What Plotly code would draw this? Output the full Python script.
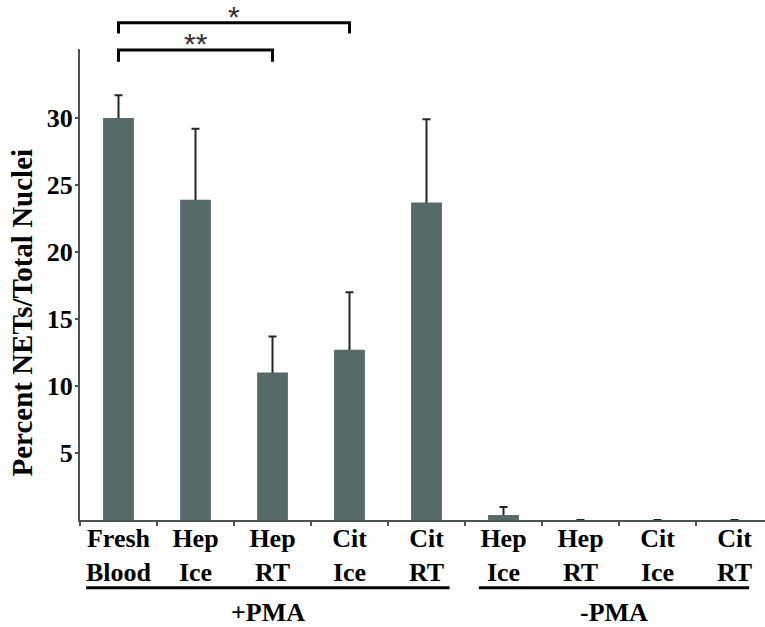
import plotly.graph_objects as go

# ---- data ----
categories = ["Fresh<br>Blood", "Hep<br>Ice", "Hep<br>RT", "Cit<br>Ice", "Cit<br>RT",
              "Hep<br>Ice", "Hep<br>RT", "Cit<br>Ice", "Cit<br>RT"]
values = [30.0, 23.9, 11.0, 12.7, 23.7, 0.37, 0, 0, 0]
err_up = [1.7, 5.3, 2.7, 4.3, 6.2, 0.6, 0, 0, 0]
y_tickvals = [5, 10, 15, 20, 25, 30]
groups = [("+PMA", -0.42, 4.30), ("-PMA", 4.68, 8.19)]
# significance brackets: (label, x_start, x_end, y_bar, y_leg)  y in data units
brackets = [("*", 0, 3, 37.1, 36.3), ("**", 0, 2, 35.07, 34.2)]

YMAX = 35.15
XMIN, XMAX = -0.5, 8.396

BAR = "#576a6a"
ERR = "#1e2828"
AX = "#4a5252"
FONT = "Liberation Serif"

xs = list(range(len(categories)))

fig = go.Figure()
# carrier for the error bars (its lower caps end up hidden inside the visible bars)
fig.add_trace(go.Bar(
    x=xs, y=values, width=0.4, marker_color="rgba(0,0,0,0)", marker_line_width=0,
    error_y=dict(type="data", symmetric=False, array=err_up,
                 arrayminus=[min(0.5, v) for v in values], color=ERR, thickness=2, width=4),
    showlegend=False, hoverinfo="skip",
))
fig.add_trace(go.Bar(
    x=xs, y=values, width=0.4, marker_color=BAR, marker_line_width=0,
    showlegend=False,
))

shapes = []
annotations = []
for label, x0, x1, yb, yl in brackets:
    pb, pl = yb / YMAX, yl / YMAX
    shapes.append(dict(type="path", xref="x", yref="paper",
                       path=f"M {x0},{pl} L {x0},{pb} L {x1},{pb} L {x1},{pl}",
                       line=dict(color="black", width=3)))
    annotations.append(dict(text=label, x=(x0 + x1) / 2, y=pb, xref="x", yref="paper",
                            xanchor="center", yanchor="bottom", showarrow=False, yshift=-12,
                            font=dict(family="Liberation Sans", size=30, color="#303030")))

for label, x0, x1 in groups:
    shapes.append(dict(type="line", xref="x", yref="paper", x0=x0, x1=x1,
                       y0=-0.144, y1=-0.144, line=dict(color="black", width=3)))
    annotations.append(dict(text=label, x=(x0 + x1) / 2, y=-0.197, xref="x", yref="paper",
                            xanchor="center", yanchor="middle", showarrow=False,
                            font=dict(family=FONT, size=26, color="black", weight="bold")))

annotations.append(dict(text="Percent NETs/Total Nuclei", x=-0.085, y=0.44,
                        xref="paper", yref="paper", textangle=-90,
                        xanchor="center", yanchor="middle", showarrow=False,
                        font=dict(family=FONT, size=29, color="black", weight="bold")))

fig.update_layout(
    width=765, height=627,
    margin=dict(l=80, r=0, t=49, b=107),
    paper_bgcolor="white", plot_bgcolor="white",
    barmode="overlay",
    shapes=shapes, annotations=annotations,
    xaxis=dict(range=[XMIN, XMAX], tickvals=xs, ticktext=categories, ticks="",
               showline=True, linecolor=AX, linewidth=2, showgrid=False, zeroline=False,
               ticklabelstandoff=-6,
               tickfont=dict(family=FONT, size=26, color="black", weight="bold"),
               minor=dict(tickvals=[i - 0.5 for i in range(10)], ticks="outside",
                          ticklen=4, tickwidth=2, tickcolor=AX, showgrid=False)),
    yaxis=dict(range=[0, YMAX], tickvals=y_tickvals, ticks="outside", ticklen=3,
               tickwidth=2, tickcolor=AX, showline=True, linecolor=AX, linewidth=2,
               showgrid=False, zeroline=False, ticklabelstandoff=-3,
               tickfont=dict(family=FONT, size=26, color="black", weight="bold")),
)

fig.write_html("out.html")
